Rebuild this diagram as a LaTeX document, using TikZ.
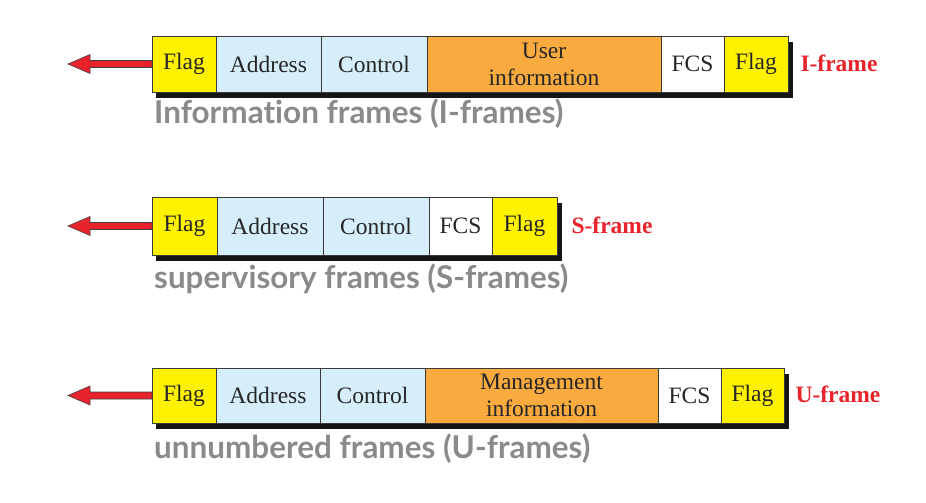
\documentclass[tikz,border=0pt]{standalone}
\usepackage{fontspec}
\setmainfont{Liberation Serif}
\newfontfamily\capfont{Lato}[Ligatures=NoCommon]
\usetikzlibrary{calc}
\definecolor{flagc}{HTML}{FFF200}
\definecolor{addrc}{HTML}{D5EEFA}
\definecolor{infoc}{HTML}{FAAB3F}
\definecolor{redc}{HTML}{E8232B}
\definecolor{capc}{HTML}{8A8A8A}
\definecolor{edgec}{HTML}{3A3A3A}
\definecolor{shadc}{HTML}{151515}
\tikzset{
 field/.style={draw=edgec, line width=0.8pt, inner sep=0pt, outer sep=0pt,
   font=\fontsize{23.5}{27}\selectfont, align=center, text=black!85},
 fw/.style={minimum width=#1},
 fh/.style={minimum height=#1},
 flagf/.style={field, fill=flagc},
 addrf/.style={field, fill=addrc},
 infof/.style={field, fill=infoc},
 fcsf/.style={field, fill=white},
 framelab/.style={text=redc, font=\fontsize{23.5}{27}\selectfont\bfseries, inner sep=0pt},
 caption/.style={text=capc, anchor=base west, inner sep=0pt},
 arrowc/.style={fill=redc, draw=black!75, line width=0.6pt, line join=miter}
}
\newcommand\redarrow[1]{\filldraw[arrowc] (#1) ++(0,-3.5) -- ++(-62,0) -- ++(0,-6) -- ++(-22,9.5) -- ++(22,9.5) -- ++(0,-6) -- ++(62,0) -- cycle;}
\begin{document}
\begin{tikzpicture}[x=1pt,y=-1pt]
\fill[white] (0,0) rectangle (926,503);
\useasboundingbox (0,0) rectangle (926,503);
% I-frame
\fill[shadc] (156,42) rectangle (793,98);
\node[flagf, fw=64pt, fh=56pt] (i1) at (184,64) {Flag};
\node[addrf, fw=105pt, fh=56pt] (i2) at (268.5,64) {Address};
\node[addrf, fw=106pt, fh=56pt] (i3) at (374,64) {Control};
\node[infof, fw=234pt, fh=56pt] (i4) at (544,64) {User\\information};
\node[fcsf, fw=63pt, fh=56pt] (i5) at (692.5,64) {FCS};
\node[flagf, fw=64pt, fh=56pt] (i6) at (756,64) {Flag};
\node[framelab] (il) at (839,63) {I-frame};
\redarrow{i1.west}
\node[caption] (ic) at (154,123) {\resizebox{409pt}{!}{\capfont\bfseries Information frames (I-frames)}};
% S-frame
\fill[shadc] (156,203) rectangle (562,261);
\node[flagf, fw=65pt, fh=58pt] (s1) at (184.5,226) {Flag};
\node[addrf, fw=106pt, fh=58pt] (s2) at (270,226) {Address};
\node[addrf, fw=106pt, fh=58pt] (s3) at (376,226) {Control};
\node[fcsf, fw=63pt, fh=58pt] (s4) at (460.5,226) {FCS};
\node[flagf, fw=65pt, fh=58pt] (s5) at (524.5,226) {Flag};
\node[framelab] (sl) at (612,225) {S-frame};
\redarrow{s1.west}
\node[caption] (sc) at (154,288) {\resizebox{414pt}{!}{\capfont\bfseries supervisory frames (S-frames)}};
% U-frame
\fill[shadc] (156,374) rectangle (789,429);
\node[flagf, fw=64pt, fh=55pt] (u1) at (184,395.5) {Flag};
\node[addrf, fw=104pt, fh=55pt] (u2) at (268,395.5) {Address};
\node[addrf, fw=105pt, fh=55pt] (u3) at (372.5,395.5) {Control};
\node[infof, fw=233pt, fh=55pt] (u4) at (541.5,395.5) {Management\\information};
\node[fcsf, fw=63pt, fh=55pt] (u5) at (689.5,395.5) {FCS};
\node[flagf, fw=63pt, fh=55pt] (u6) at (752.5,395.5) {Flag};
\node[framelab] (ul) at (838,394) {U-frame};
\redarrow{u1.west}
\node[caption] (uc) at (154,458) {\resizebox{436pt}{!}{\capfont\bfseries unnumbered frames (U-frames)}};
\end{tikzpicture}
\end{document}
